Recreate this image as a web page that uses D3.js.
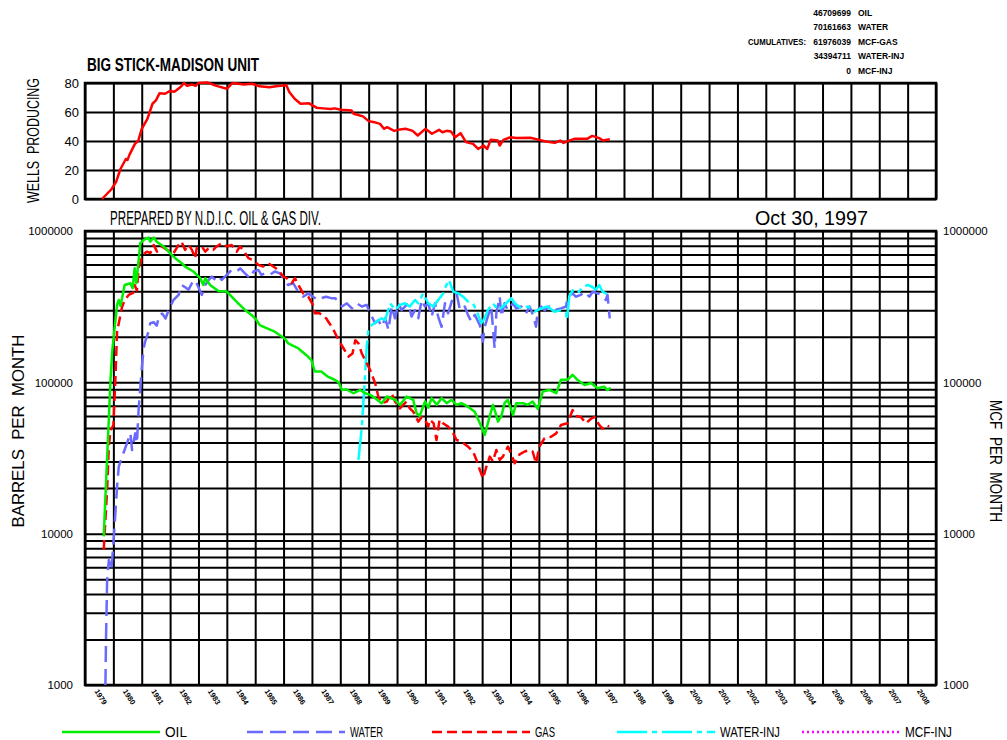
<!DOCTYPE html>
<html><head><meta charset="utf-8">
<script src="https://cdn.jsdelivr.net/npm/d3@7"></script>
<style>body{margin:0;background:#fff}svg{display:block}</style>
</head><body><svg id="c" width="1007" height="740"></svg>
<script>
// ---------- DATA ----------
const yearTicks = d3.range(1979, 2009);           // 1979 .. 2008 labels
const wellsTicks = [0, 20, 40, 60, 80];
const logMajorTicks = [1000, 10000, 100000, 1000000];
const cumValues = ["46709699", "70161663", "61976039", "34394711", "0"];
const cumLabels = ["OIL", "WATER", "MCF-GAS", "WATER-INJ", "MCF-INJ"];
const legendNames = ["OIL", "WATER", "GAS", "WATER-INJ", "MCF-INJ"];

const wellsData = [[1979.60,0],[1979.94,6.9],[1980.1,12],[1980.25,20.7],[1980.44,27.6],[1980.5,27],[1980.57,30.6],[1980.76,38],[1980.88,40.3],[1981.0,48.4],[1981.2,55.3],[1981.38,65.7],[1981.5,68],[1981.63,73],[1981.82,72.6],[1982.0,74.5],[1982.15,74],[1982.29,76],[1982.39,77.7],[1982.49,80],[1982.6,78],[1982.76,79],[1982.9,78],[1983.0,80],[1983.33,80.3],[1983.5,79],[1983.7,77.7],[1984.0,76],[1984.2,80],[1984.4,79.5],[1984.6,79],[1984.9,79.5],[1985.15,77.7],[1985.5,77],[1985.8,78],[1986.1,78.4],[1986.2,73.8],[1986.4,69],[1986.6,65.7],[1986.9,66],[1987.16,63],[1987.4,62.5],[1987.66,62],[1987.8,62.5],[1988.03,61.5],[1988.4,61],[1988.47,58.8],[1988.8,57],[1989.0,53.7],[1989.2,53],[1989.4,51.8],[1989.54,48.4],[1989.65,49.5],[1989.9,47],[1990.1,48],[1990.3,48.4],[1990.55,47],[1990.73,43.8],[1991.0,48.4],[1991.23,45],[1991.48,47.7],[1991.6,46],[1991.75,47],[1991.9,46.5],[1992.05,42.6],[1992.24,45.4],[1992.43,39.2],[1992.68,38],[1992.86,34.5],[1993.05,36.9],[1993.18,34.5],[1993.3,40.8],[1993.55,40.3],[1993.62,36.9],[1993.75,40.8],[1994.0,42.6],[1994.2,42],[1994.7,42.2],[1995.2,39.9],[1995.56,38.7],[1995.75,40.3],[1995.87,38.7],[1996.06,40.3],[1996.25,41.5],[1996.7,41.5],[1996.88,43.5],[1997.13,42],[1997.26,40.3],[1997.5,41.2]];

const oilData = [[1979.66,9600],[1979.9,104000],[1979.96,160000],[1980.13,325000],[1980.19,350000],[1980.25,320000],[1980.40,440000],[1980.60,452000],[1980.68,419000],[1980.75,567000],[1980.81,452000],[1980.95,830000],[1981.07,873000],[1981.24,905000],[1981.3,850000],[1981.42,905000],[1981.53,850000],[1981.77,790000],[1982.0,713000],[1982.18,661000],[1982.41,612000],[1982.53,582000],[1982.82,540000],[1983.06,488000],[1983.17,440000],[1983.24,488000],[1983.41,440000],[1983.70,402000],[1984.0,398000],[1984.17,368000],[1984.40,333000],[1984.64,301000],[1984.87,279000],[1985.05,258000],[1985.16,239000],[1985.40,228000],[1985.69,216000],[1986.04,195000],[1986.16,181000],[1986.51,168000],[1986.86,148000],[1986.98,140000],[1987.10,118000],[1987.33,118000],[1987.56,109000],[1987.8,104000],[1987.94,100000],[1988.06,89000],[1988.2,90000],[1988.47,84700],[1988.70,89000],[1988.88,84700],[1989.05,82600],[1989.23,78600],[1989.46,72800],[1989.64,80600],[1989.93,76700],[1990.1,70800],[1990.34,80600],[1990.57,76700],[1990.69,62400],[1990.8,60000],[1990.99,74700],[1991.1,68000],[1991.22,78600],[1991.4,71000],[1991.57,78600],[1991.75,72800],[1991.92,76700],[1992.1,71000],[1992.27,72800],[1992.5,69000],[1992.74,64000],[1992.97,51000],[1993.09,44900],[1993.2,53600],[1993.38,71000],[1993.47,63000],[1993.56,55000],[1993.68,60000],[1993.79,72800],[1993.9,76700],[1994.09,60800],[1994.2,72800],[1994.44,72800],[1994.61,71000],[1994.78,74700],[1994.96,67000],[1995.14,86900],[1995.37,89000],[1995.61,84700],[1995.78,104000],[1996.01,104000],[1996.19,112000],[1996.36,104000],[1996.61,96000],[1996.84,99000],[1997.07,91500],[1997.3,93500],[1997.42,89000],[1997.53,92000]];

const gasData = [[1979.66,7800],[1979.78,19500],[1979.84,37600],[1979.9,48400],[1980.0,52000],[1980.07,104000],[1980.13,216000],[1980.31,317000],[1980.4,350000],[1980.54,378000],[1980.7,390000],[1980.75,440000],[1980.83,405000],[1980.89,567000],[1981.03,695000],[1981.18,730000],[1981.3,713000],[1981.42,809000],[1981.54,730000],[1981.72,790000],[1981.89,750000],[1982.12,713000],[1982.3,809000],[1982.4,850000],[1982.53,750000],[1982.65,809000],[1982.77,750000],[1982.88,661000],[1982.94,770000],[1983.12,790000],[1983.24,730000],[1983.36,770000],[1983.52,750000],[1983.64,790000],[1983.82,830000],[1984.0,790000],[1984.17,809000],[1984.35,730000],[1984.46,790000],[1984.58,750000],[1984.76,661000],[1984.94,640000],[1985.11,597000],[1985.28,582000],[1985.46,612000],[1985.64,582000],[1985.81,553000],[1985.99,500000],[1986.11,488000],[1986.29,452000],[1986.4,488000],[1986.52,440000],[1986.69,387000],[1986.87,368000],[1987.04,324000],[1987.1,286000],[1987.27,286000],[1987.5,265000],[1987.62,245000],[1987.76,222000],[1987.94,190000],[1988.11,168000],[1988.29,148000],[1988.43,155000],[1988.53,190000],[1988.64,181000],[1988.76,155000],[1988.93,134000],[1989.05,121000],[1989.23,98500],[1989.34,80600],[1989.46,72800],[1989.64,74700],[1989.81,84700],[1989.93,74700],[1990.1,67300],[1990.22,71000],[1990.33,74700],[1990.45,67300],[1990.57,64000],[1990.75,55000],[1990.87,59000],[1990.99,56600],[1991.1,51000],[1991.16,56600],[1991.29,53600],[1991.39,41600],[1991.5,56600],[1991.62,53600],[1991.8,51000],[1991.98,46000],[1992.1,41600],[1992.27,40500],[1992.5,37600],[1992.68,34900],[1992.8,30700],[1992.92,26400],[1993.03,23200],[1993.15,27700],[1993.27,32300],[1993.38,30000],[1993.5,35700],[1993.62,30700],[1993.73,32300],[1993.91,37600],[1994.03,33400],[1994.15,29200],[1994.32,33400],[1994.5,34900],[1994.67,35700],[1994.78,34900],[1994.9,29200],[1995.02,37600],[1995.2,42700],[1995.43,43700],[1995.61,46000],[1995.78,52200],[1996.01,53600],[1996.19,65600],[1996.3,60000],[1996.48,59000],[1996.66,53600],[1996.84,57500],[1996.96,59000],[1997.13,52200],[1997.24,49400],[1997.36,52200],[1997.48,51000]];

const waterData = [[1979.72,1000],[1979.74,1980],[1979.78,4940],[1979.84,6700],[1979.93,5750],[1980.01,9080],[1980.07,13600],[1980.13,20400],[1980.19,27700],[1980.31,32300],[1980.48,39600],[1980.6,46000],[1980.66,35700],[1980.77,46000],[1980.83,39600],[1980.89,66000],[1981.01,130000],[1981.07,168000],[1981.12,186000],[1981.24,216000],[1981.3,246000],[1981.42,250000],[1981.53,237000],[1981.62,279000],[1981.72,285000],[1981.84,264000],[1981.95,301000],[1982.12,350000],[1982.3,378000],[1982.41,440000],[1982.53,425000],[1982.65,410000],[1982.77,452000],[1982.88,475000],[1983.0,425000],[1983.12,378000],[1983.24,440000],[1983.36,475000],[1983.47,500000],[1983.6,475000],[1983.7,500000],[1983.82,475000],[1984.0,513000],[1984.17,553000],[1984.35,540000],[1984.47,567000],[1984.64,525000],[1984.82,488000],[1984.94,540000],[1985.11,553000],[1985.22,513000],[1985.34,525000],[1985.52,513000],[1985.69,540000],[1985.87,525000],[1986.04,475000],[1986.16,440000],[1986.34,452000],[1986.51,398000],[1986.69,368000],[1986.87,387000],[1987.04,368000],[1987.21,350000],[1987.33,360000],[1987.5,368000],[1987.68,360000],[1987.82,360000],[1988.06,317000],[1988.23,333000],[1988.41,308000],[1988.58,333000],[1988.76,317000],[1988.93,325000],[1989.05,286000],[1989.23,246000],[1989.34,258000],[1989.46,233000],[1989.58,265000],[1989.7,222000],[1989.81,317000],[1989.93,265000],[1990.05,333000],[1990.16,300000],[1990.28,317000],[1990.4,333000],[1990.51,272000],[1990.63,300000],[1990.75,265000],[1990.87,350000],[1990.98,317000],[1991.1,333000],[1991.22,272000],[1991.34,333000],[1991.45,272000],[1991.57,233000],[1991.69,333000],[1991.8,286000],[1991.98,368000],[1992.1,387000],[1992.22,300000],[1992.39,317000],[1992.5,279000],[1992.62,252000],[1992.74,279000],[1992.92,239000],[1993.03,186000],[1993.09,233000],[1993.2,272000],[1993.32,317000],[1993.44,168000],[1993.5,286000],[1993.62,368000],[1993.68,272000],[1993.79,333000],[1993.9,300000],[1994.09,333000],[1994.2,308000],[1994.38,317000],[1994.55,286000],[1994.67,317000],[1994.79,279000],[1994.9,233000],[1994.96,300000],[1995.08,317000],[1995.2,300000],[1995.37,317000],[1995.55,300000],[1995.78,308000],[1995.96,317000],[1996.01,368000],[1996.19,387000],[1996.3,368000],[1996.48,378000],[1996.6,397000],[1996.78,368000],[1996.9,397000],[1997.07,387000],[1997.24,378000],[1997.36,350000],[1997.42,378000],[1997.48,286000],[1997.5,265000]];

const waterInjData = [[1988.64,30700],[1988.76,51000],[1988.85,93700],[1988.93,171000],[1988.99,222000],[1989.11,239000],[1989.29,252000],[1989.46,265000],[1989.58,258000],[1989.76,333000],[1989.93,300000],[1990.1,325000],[1990.28,333000],[1990.45,317000],[1990.63,350000],[1990.75,333000],[1990.92,387000],[1991.1,333000],[1991.28,317000],[1991.45,350000],[1991.63,387000],[1991.74,440000],[1991.83,475000],[1991.98,398000],[1992.16,387000],[1992.33,368000],[1992.5,342000],[1992.68,333000],[1992.86,279000],[1992.97,246000],[1993.09,265000],[1993.2,300000],[1993.38,333000],[1993.56,300000],[1993.73,317000],[1993.91,342000],[1994.03,360000],[1994.15,333000],[1994.38,308000],[1994.61,317000],[1994.85,293000],[1995.08,308000],[1995.31,317000],[1995.55,293000],[1995.78,300000],[1995.96,286000],[1995.99,258000],[1996.07,368000],[1996.19,405000],[1996.36,387000],[1996.54,425000],[1996.72,440000],[1996.9,425000],[1997.0,410000],[1997.13,440000],[1997.24,398000],[1997.36,387000],[1997.48,368000]];

const mcfInjData = []; // cumulative 0 - nothing plotted

// ---------- STYLE ----------
const styles = {
  "OIL":       {color:"#00ee00", dash:null},
  "WATER":     {color:"#6a6aff", dash:"16,7"},
  "GAS":       {color:"#ff0000", dash:"10,5"},
  "WATER-INJ": {color:"#00ffff", dash:"30,5,5,5"},
  "MCF-INJ":   {color:"#ff00ff", dash:"2,3"}
};
const NARROW = "'Liberation Sans Narrow','Liberation Sans',Arial,sans-serif";
const SANS = "'Liberation Sans',Arial,sans-serif";

const svg = d3.select("#c");
svg.append("rect").attr("width",1007).attr("height",740).attr("fill","#fff");

const X0 = 85, X1 = 936;
const x = d3.scaleLinear().domain([1979, 2009]).range([X0, X1]);
const yW = d3.scaleLinear().domain([0, 80]).range([199, 83]);
const yL = d3.scaleLog().domain([1000, 1000000]).range([685, 231]);

function styleAxis(g, fs, family){
  g.select(".domain").remove();
  g.selectAll(".tick line").attr("stroke","#000").attr("stroke-width",2);
  g.selectAll("text").attr("fill","#000").style("font-size",fs+"px").style("font-family",family);
}

// ---------- TOP PANEL ----------
const topG = svg.append("g");
topG.append("g").attr("transform",`translate(0,${yW(0)})`)
  .call(d3.axisBottom(x).tickValues(d3.range(1979,2010)).tickSize(-(yW(0)-yW(80))).tickFormat(""))
  .call(g=>styleAxis(g,10,SANS));
topG.append("g").attr("transform",`translate(${X0},0)`)
  .call(d3.axisLeft(yW).tickValues(wellsTicks).tickSize(-(X1-X0)).tickPadding(6))
  .call(g=>styleAxis(g,13,SANS));
topG.append("rect").attr("x",X0).attr("y",yW(80)).attr("width",X1-X0).attr("height",yW(0)-yW(80))
  .attr("fill","none").attr("stroke","#000").attr("stroke-width",2.5);
topG.append("path").datum(wellsData)
  .attr("d", d3.line().x(d=>x(d[0])).y(d=>yW(d[1])))
  .attr("fill","none").attr("stroke","#ff0000").attr("stroke-width",2.5).attr("stroke-linejoin","round");

// ---------- MAIN PANEL ----------
const gridVals = [];
[1000,10000,100000].forEach(dec=>{ for(let k=1;k<10;k++) gridVals.push(k*dec); });
gridVals.push(1000000);

const mainG = svg.append("g");
mainG.append("g").attr("transform",`translate(0,${yL(1000)})`)
  .call(d3.axisBottom(x).tickValues(d3.range(1979,2010)).tickSize(-(yL(1000)-yL(1e6))).tickFormat(""))
  .call(g=>styleAxis(g,10,SANS));
mainG.append("g").attr("transform",`translate(${X0},0)`)
  .call(d3.axisLeft(yL).tickValues(gridVals).tickSize(-(X1-X0)).tickPadding(12)
    .tickFormat(d=>logMajorTicks.includes(d)? String(d) : ""))
  .call(g=>styleAxis(g,11.5,SANS));
mainG.append("g").attr("transform",`translate(${X1},0)`)
  .call(d3.axisRight(yL).tickValues(logMajorTicks).tickSize(0).tickPadding(7).tickFormat(d=>String(d)))
  .call(g=>styleAxis(g,11.5,SANS));
mainG.append("rect").attr("x",X0).attr("y",yL(1e6)).attr("width",X1-X0).attr("height",yL(1000)-yL(1e6))
  .attr("fill","none").attr("stroke","#000").attr("stroke-width",2.5);

// year labels (centered in each year cell, rotated)
const xl = mainG.append("g").attr("transform",`translate(0,${yL(1000)})`)
  .call(d3.axisBottom(x).tickValues(yearTicks.map(d=>d+0.5)).tickSize(0).tickFormat(d=>String(Math.floor(d))));
xl.select(".domain").remove();
xl.selectAll(".tick text")
  .attr("y",0).attr("dy",0)
  .attr("transform","translate(1,12) rotate(58)")
  .attr("text-anchor","middle").attr("dominant-baseline","central")
  .style("font-size","7.5px").style("font-weight","bold").style("font-family",SANS).attr("fill","#000");

// clip
svg.append("clipPath").attr("id","clipMain").append("rect")
  .attr("x",X0).attr("y",yL(1e6)).attr("width",X1-X0).attr("height",yL(1000)-yL(1e6));
const lineL = d3.line().x(d=>x(d[0])).y(d=>yL(d[1]));
const series = [["WATER",waterData],["WATER-INJ",waterInjData],["GAS",gasData],["OIL",oilData],["MCF-INJ",mcfInjData]];
const dl = svg.append("g").attr("clip-path","url(#clipMain)");
series.forEach(([name,data])=>{
  if(!data.length) return;
  dl.append("path").datum(data).attr("d",lineL)
    .attr("fill","none").attr("stroke",styles[name].color).attr("stroke-width",2.5)
    .attr("stroke-linejoin","round")
    .attr("stroke-dasharray",styles[name].dash);
});

// ---------- TEXTS ----------
svg.append("text").attr("x",87).attr("y",71).text("BIG STICK-MADISON UNIT")
  .style("font-family",NARROW).style("font-weight","bold").style("font-size","19px")
  .attr("textLength",172).attr("lengthAdjust","spacingAndGlyphs");

svg.append("text").attr("transform","translate(39,140.5) rotate(-90)").attr("text-anchor","middle")
  .text("WELLS\u00a0\u00a0PRODUCING")
  .style("font-family",NARROW).style("font-size","17px")
  .attr("textLength",125).attr("lengthAdjust","spacingAndGlyphs");

svg.append("text").attr("x",110).attr("y",225).text("PREPARED BY N.D.I.C. OIL & GAS DIV.")
  .style("font-family",NARROW).style("font-size","20px")
  .attr("textLength",211).attr("lengthAdjust","spacingAndGlyphs");

svg.append("text").attr("x",755).attr("y",225).text("Oct 30, 1997")
  .style("font-family",SANS).style("font-size","21px")
  .attr("textLength",113).attr("lengthAdjust","spacingAndGlyphs");

svg.append("text").attr("transform","translate(24,431) rotate(-90)").attr("text-anchor","middle")
  .text("BARRELS\u00a0\u00a0PER\u00a0\u00a0MONTH")
  .style("font-family",NARROW).style("font-size","17px")
  .attr("textLength",193).attr("lengthAdjust","spacingAndGlyphs");

svg.append("text").attr("transform","translate(990,461) rotate(90)").attr("text-anchor","middle")
  .text("MCF\u00a0\u00a0PER\u00a0\u00a0MONTH")
  .style("font-family",NARROW).style("font-size","17px")
  .attr("textLength",122).attr("lengthAdjust","spacingAndGlyphs");

// cumulatives
const cum = svg.append("g").style("font-family",SANS).style("font-weight","bold").style("font-size","8.5px");
cumValues.forEach((v,i)=>{
  const yy = 12.5 + 14.6*i;
  cum.append("text").attr("x",851).attr("y",yy).attr("text-anchor","end").attr("dominant-baseline","central").text(v);
  cum.append("text").attr("x",858).attr("y",yy).attr("dominant-baseline","central").text(cumLabels[i]);
});
cum.append("text").attr("x",748).attr("y",12.5+14.6*2).attr("dominant-baseline","central").text("CUMULATIVES:")
  .attr("textLength",58).attr("lengthAdjust","spacingAndGlyphs");

// legend
const legW = [22, 33, 20, 60, 47];
legendNames.forEach((n,i)=>{
  const lx = 62 + 185*i;
  svg.append("line").attr("x1",lx).attr("x2",lx+98).attr("y1",732).attr("y2",732)
    .attr("stroke",styles[n].color).attr("stroke-width",2.5).attr("stroke-dasharray",styles[n].dash);
  svg.append("text").attr("x",lx+103).attr("y",737).text(n)
    .style("font-family",NARROW).style("font-size","14px")
    .attr("textLength",legW[i]).attr("lengthAdjust","spacingAndGlyphs");
});
</script></body></html>
